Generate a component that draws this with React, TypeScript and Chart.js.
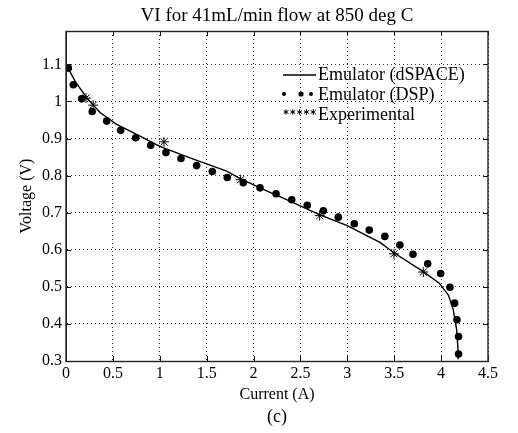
import React, { useEffect, useRef } from "react";
import { Chart, registerables } from "chart.js";

Chart.register(...registerables);

// ---- data ----
const dspaceI = [0.014, 0.096, 0.22, 0.363, 0.54, 0.753, 1.0, 1.322, 1.713, 1.863, 2.175, 2.317, 2.708, 2.993, 3.348, 3.497, 3.81, 3.98, 4.077, 4.13, 4.166, 4.178, 4.182];
const dspaceV = [1.094, 1.055, 1.01, 0.97, 0.938, 0.911, 0.879, 0.848, 0.812, 0.791, 0.755, 0.739, 0.694, 0.666, 0.62, 0.592, 0.541, 0.51, 0.478, 0.438, 0.384, 0.34, 0.305];

const dspI = [0.025, 0.078, 0.167, 0.28, 0.434, 0.583, 0.743, 0.903, 1.066, 1.226, 1.393, 1.56, 1.72, 1.89, 2.069, 2.24, 2.407, 2.573, 2.744, 2.904, 3.074, 3.234, 3.4, 3.56, 3.7, 3.857, 3.995, 4.094, 4.144, 4.169, 4.186, 4.186];
const dspV = [1.09, 1.045, 1.007, 0.973, 0.947, 0.922, 0.902, 0.882, 0.862, 0.846, 0.827, 0.811, 0.795, 0.781, 0.767, 0.751, 0.735, 0.72, 0.705, 0.688, 0.67, 0.653, 0.636, 0.613, 0.588, 0.562, 0.536, 0.499, 0.456, 0.411, 0.366, 0.319];

const expI = [0.213, 0.29, 1.045, 1.862, 2.705, 3.497, 3.81];
const expV = [1.009, 0.99, 0.891, 0.789, 0.692, 0.589, 0.54];

const yTicks = [0.3, 0.4, 0.5, 0.6, 0.7, 0.8, 0.9, 1.0, 1.1];
const xTicks = [0, 0.5, 1, 1.5, 2, 2.5, 3, 3.5, 4, 4.5];

const titleText = "VI for 41mL/min flow at 850 deg C";
const xTitle = "Current (A)";
const yTitle = "Voltage (V)";
const captionText = "(c)";
const legendLabels = ["Emulator (dSPACE)", "Emulator (DSP)", "Experimental"];

const SERIF = '"Liberation Serif", "Times New Roman", serif';

const fmt = (v: number) => String(parseFloat(v.toFixed(2)));

const zip = (xs: number[], ys: number[]) => xs.map((x, i) => ({ x, y: ys[i] }));

const boxPlugin = {
  id: "boxPlugin",
  afterDraw(chart: any) {
    const { ctx, chartArea } = chart;
    const { left, right, top, bottom } = chartArea;
    const xs = chart.scales.x;
    const ys = chart.scales.y;
    ctx.save();
    ctx.strokeStyle = "#111";
    ctx.lineWidth = 1;
    ctx.setLineDash([]);
    // inward ticks
    ctx.beginPath();
    xs.ticks.forEach((t: any) => {
      const px = Math.round(xs.getPixelForValue(t.value)) + 0.5;
      ctx.moveTo(px, bottom);
      ctx.lineTo(px, bottom - 5);
      ctx.moveTo(px, top);
      ctx.lineTo(px, top + 5);
    });
    ys.ticks.forEach((t: any) => {
      const py = Math.round(ys.getPixelForValue(t.value)) + 0.5;
      ctx.moveTo(left, py);
      ctx.lineTo(left + 5, py);
      ctx.moveTo(right, py);
      ctx.lineTo(right - 5, py);
    });
    ctx.stroke();
    // box
    ctx.strokeStyle = "#222";
    ctx.lineWidth = 1.4;
    ctx.strokeRect(Math.round(left), Math.round(top) + 0.5, Math.round(right - left), Math.round(bottom - top));
    ctx.restore();

    // legend
    const lx = left + 217;
    const lw = 33;
    const tx = lx + 35;
    const rows = [top + 44, top + 64, top + 84];
    ctx.save();
    ctx.fillStyle = "#000";
    ctx.strokeStyle = "#000";
    ctx.font = "18px " + SERIF;
    ctx.textBaseline = "middle";
    ctx.textAlign = "left";
    // row 1: line
    ctx.lineWidth = 1.4;
    ctx.beginPath();
    ctx.moveTo(lx, rows[0]);
    ctx.lineTo(lx + lw, rows[0]);
    ctx.stroke();
    ctx.fillText(legendLabels[0], tx, rows[0]);
    // row 2: dots
    [0, 17, 27].forEach((dx, i) => {
      ctx.beginPath();
      ctx.arc(lx + 1 + dx, rows[1] - 1, i === 1 ? 2.6 : 2, 0, Math.PI * 2);
      ctx.fill();
    });
    ctx.fillText(legendLabels[1], tx, rows[1]);
    // row 3: small asterisks
    ctx.lineWidth = 1;
    for (let k = 0; k < 5; k++) {
      const cx = lx + 3 + k * 6.8;
      const cy = rows[2] - 3;
      const r = 2.8;
      ctx.beginPath();
      for (let a = 0; a < 3; a++) {
        const ang = (Math.PI / 3) * a + Math.PI / 2;
        ctx.moveTo(cx + r * Math.cos(ang), cy + r * Math.sin(ang));
        ctx.lineTo(cx - r * Math.cos(ang), cy - r * Math.sin(ang));
      }
      ctx.stroke();
    }
    ctx.fillText(legendLabels[2], tx, rows[2]);
    ctx.restore();
  },
};

export default function App() {
  const ref = useRef<HTMLCanvasElement | null>(null);

  useEffect(() => {
    if (!ref.current) return;
    Chart.defaults.font.family = SERIF;
    Chart.defaults.color = "#000";
    const chart = new Chart(ref.current, {
      type: "scatter",
      data: {
        datasets: [
          {
            label: legendLabels[0],
            data: zip(dspaceI, dspaceV),
            showLine: true,
            borderColor: "#000",
            borderWidth: 1.4,
            pointRadius: 0,
            tension: 0,
            order: 3,
          },
          {
            label: legendLabels[1],
            data: zip(dspI, dspV),
            showLine: false,
            pointRadius: 3.8,
            pointBackgroundColor: "#000",
            pointBorderColor: "#000",
            pointBorderWidth: 0,
            order: 2,
          },
          {
            label: legendLabels[2],
            data: zip(expI, expV),
            showLine: false,
            pointStyle: "star",
            pointRadius: 5,
            pointBorderColor: "#000",
            pointBorderWidth: 1,
            order: 1,
          },
        ],
      },
      options: {
        animation: false,
        responsive: false,
        devicePixelRatio: 1,
        layout: { padding: { left: 0, right: 30, top: 0, bottom: 0 } },
        plugins: {
          legend: { display: false },
          tooltip: { enabled: false },
          title: {
            display: true,
            text: titleText,
            fullSize: false,
            color: "#000",
            font: { family: SERIF, size: 19, weight: "normal" },
            padding: { top: 5, bottom: 3.2 },
          },
          subtitle: {
            display: true,
            text: captionText,
            position: "bottom",
            fullSize: false,
            color: "#000",
            font: { family: SERIF, size: 18, weight: "normal" },
            padding: { top: 0, bottom: 5 },
          },
        },
        scales: {
          x: {
            type: "linear",
            min: 0,
            max: 4.5,
            afterBuildTicks: (scale: any) => {
              scale.ticks = xTicks.map((v) => ({ value: v }));
            },
            afterFit: (scale: any) => {
              scale.height = 45.4;
            },
            ticks: {
              padding: 3,
              maxRotation: 0,
              font: { family: SERIF, size: 16 },
              color: "#000",
              callback: (v: any) => fmt(Number(v)),
            },
            grid: { color: "#333", lineWidth: 1, drawTicks: false },
            border: { display: true, color: "#222", dash: [1, 3] },
            title: {
              display: true,
              text: xTitle,
              color: "#000",
              font: { family: SERIF, size: 16 },
              padding: { top: 0, bottom: 1.8 },
            },
          },
          y: {
            type: "linear",
            min: 0.3,
            max: 1.19,
            afterBuildTicks: (scale: any) => {
              scale.ticks = yTicks.map((v) => ({ value: v }));
            },
            afterFit: (scale: any) => {
              scale.width = 66;
            },
            ticks: {
              padding: 4,
              font: { family: SERIF, size: 16 },
              color: "#000",
              callback: (v: any) => fmt(Number(v)),
            },
            grid: { color: "#333", lineWidth: 1, drawTicks: false },
            border: { display: true, color: "#222", dash: [1, 3] },
            title: {
              display: true,
              text: yTitle,
              color: "#000",
              font: { family: SERIF, size: 16 },
              padding: { top: 17, bottom: 0 },
            },
          },
        },
      },
      plugins: [boxPlugin],
    } as any);
    return () => chart.destroy();
  }, []);

  return (
    <div style={{ position: "fixed", left: 0, top: 0, width: 518, height: 433, background: "#fff" }}>
      <canvas ref={ref} width={518} height={433} style={{ display: "block" }} />
    </div>
  );
}
